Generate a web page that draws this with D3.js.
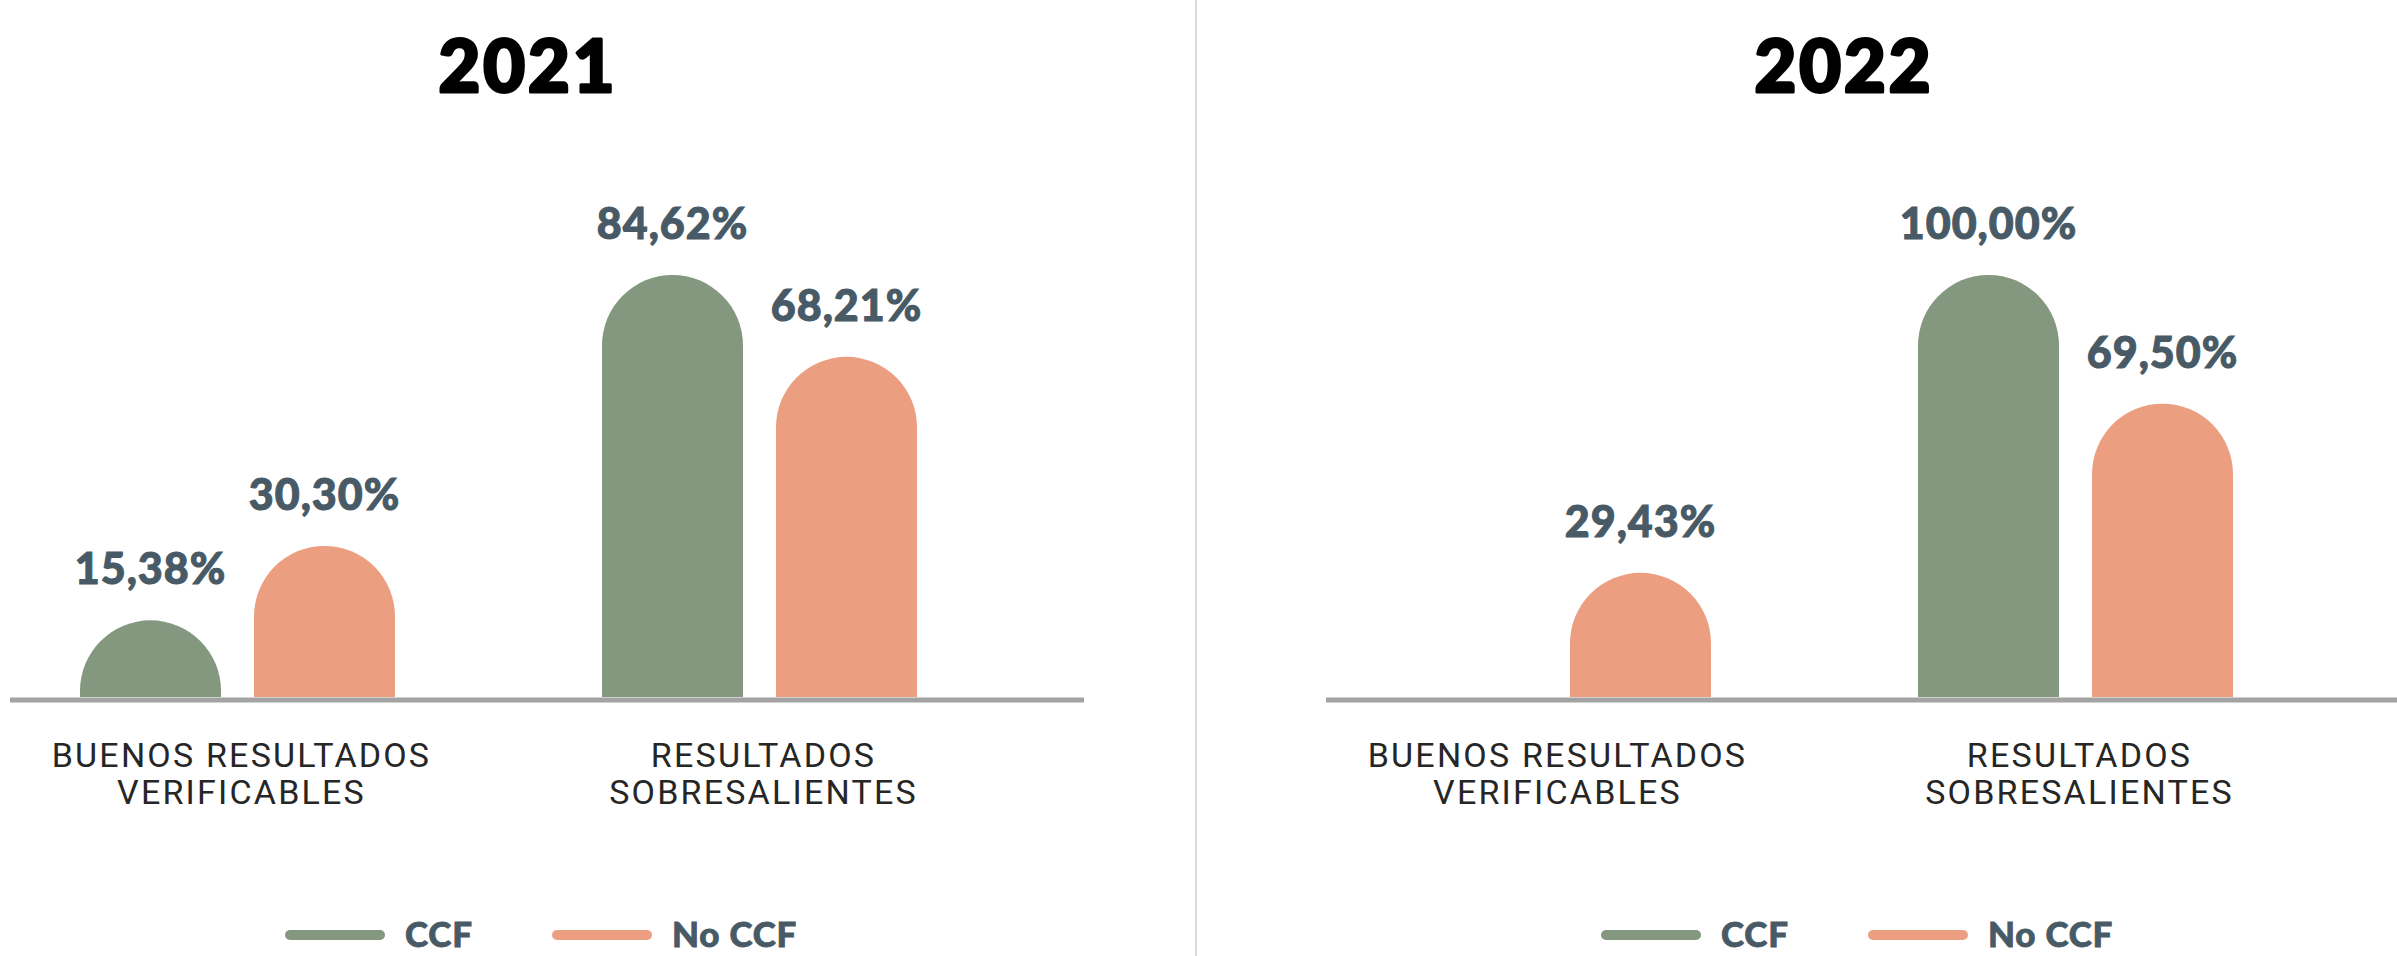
<!DOCTYPE html>
<html>
<head>
<meta charset="utf-8">
<script src="https://cdn.jsdelivr.net/npm/d3@7"></script>
<style>
  html, body { margin: 0; padding: 0; background: #ffffff; }
  svg { display: block; }
</style>
</head>
<body>
<svg id="chart" width="2397" height="956"></svg>
<script>
// ---- data ----
const years = ["2021", "2022"];
const categories = ["BUENOS RESULTADOS VERIFICABLES", "RESULTADOS SOBRESALIENTES"];
const categoryLines = [["BUENOS RESULTADOS", "VERIFICABLES"], ["RESULTADOS", "SOBRESALIENTES"]];
const seriesNames = ["CCF", "No CCF"];
const ccf2021 = [15.38, 84.62];
const noCcf2021 = [30.30, 68.21];
const ccf2022 = [null, 100.00];
const noCcf2022 = [29.43, 69.50];

const seriesColors = ["#83987f", "#eb9e80"];
const panels = [
  { year: years[0], values: [ccf2021, noCcf2021] },
  { year: years[1], values: [ccf2022, noCcf2022] }
];

const locale = d3.formatLocale({ decimal: ",", thousands: ".", grouping: [3], currency: ["", ""] });
const fmt = v => locale.format(".2f")(v) + "%";

const svg = d3.select("#chart");
const panelOffset = d3.scaleOrdinal().domain(years).range([0, 1316]);

// separator
svg.append("line")
  .attr("x1", 1196).attr("x2", 1196).attr("y1", 0).attr("y2", 956)
  .attr("stroke", "#d9d9d9").attr("stroke-width", 2);

const baseY = 697;
const x0 = d3.scaleBand().domain(categories).range([-23.5, 1020.5]);
const x1 = d3.scaleBand().domain(seriesNames).range([-157.5, 157.5]).paddingInner(33 / 174);

panels.forEach(p => {
  const g = svg.append("g").attr("transform", `translate(${panelOffset(p.year)},0)`);
  const maxV = d3.max(p.values.flat().filter(v => v != null));
  const y = d3.scaleLinear().domain([0, maxV]).range([baseY, 275]);

  // title
  g.append("text")
    .attr("x", 528).attr("y", 92)
    .attr("text-anchor", "middle")
    .attr("font-family", "Lato, 'Open Sans', sans-serif")
    .attr("font-weight", 900)
    .attr("font-size", 72)
    .attr("letter-spacing", 3)
    .attr("fill", "#000")
    .attr("stroke", "#000")
    .attr("stroke-width", 3)
    .attr("stroke-linejoin", "round")
    .text(p.year);

  // bars
  const data = [];
  p.values.forEach((vals, si) => {
    vals.forEach((v, ci) => {
      if (v != null) data.push({ s: seriesNames[si], si, c: categories[ci], v });
    });
  });

  const bw = x1.bandwidth();
  const r = bw / 2;
  g.selectAll("path.bar").data(data).enter().append("path")
    .attr("class", "bar")
    .attr("fill", d => seriesColors[d.si])
    .attr("d", d => {
      const xl = x0(d.c) + x0.bandwidth() / 2 + x1(d.s);
      const top = y(d.v);
      const h = baseY - top;
      const rr = Math.min(r, h);
      return `M${xl},${baseY}V${top + rr}A${r},${rr} 0 0 1 ${xl + bw},${top + rr}V${baseY}Z`;
    });

  // value labels
  g.selectAll("text.val").data(data).enter().append("text")
    .attr("class", "val")
    .attr("x", d => x0(d.c) + x0.bandwidth() / 2 + x1(d.s) + bw / 2)
    .attr("y", d => y(d.v) - 36)
    .attr("text-anchor", "middle")
    .attr("font-family", "Lato, sans-serif")
    .attr("font-weight", 900)
    .attr("font-size", 43)
    .attr("letter-spacing", 1)
    .attr("fill", "#485a66")
    .attr("stroke", "#485a66")
    .attr("stroke-width", 1)
    .text(d => fmt(d.v));

  // baseline
  g.append("line")
    .attr("x1", 10).attr("x2", 1084)
    .attr("y1", baseY + 3).attr("y2", baseY + 3)
    .attr("stroke", "#a3a3a3").attr("stroke-width", 5);

  // category labels
  categories.forEach((c, ci) => {
    const t = g.append("text")
      .attr("text-anchor", "middle")
      .attr("font-family", "Roboto, sans-serif")
      .attr("font-size", 34)
      .attr("letter-spacing", 2.2)
      .attr("fill", "#262626");
    categoryLines[ci].forEach((ln, li) => {
      t.append("tspan")
        .attr("x", x0(c) + x0.bandwidth() / 2 + 4)
        .attr("y", 767 + li * 36.5)
        .text(ln);
    });
  });

  // legend
  const legendX = [285, 552];
  seriesNames.forEach((s, si) => {
    g.append("line")
      .attr("x1", legendX[si] + 5).attr("x2", legendX[si] + 95)
      .attr("y1", 935).attr("y2", 935)
      .attr("stroke", seriesColors[si]).attr("stroke-width", 10)
      .attr("stroke-linecap", "round");
    g.append("text")
      .attr("x", legendX[si] + 120).attr("y", 947)
      .attr("font-family", "Lato, sans-serif")
      .attr("font-weight", 900)
      .attr("font-size", 35)
      .attr("letter-spacing", 0.8)
      .attr("fill", "#485a66")
      .attr("stroke", "#485a66")
      .attr("stroke-width", 0.8)
      .text(s);
  });
});
</script>
</body>
</html>
